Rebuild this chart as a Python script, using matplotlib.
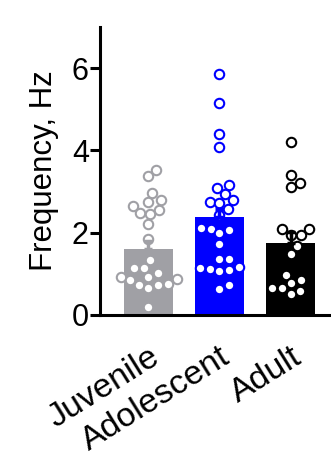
import numpy as np
import matplotlib
matplotlib.use('Agg')
import matplotlib.pyplot as plt

plt.rcParams['font.family'] = ['Liberation Sans', 'DejaVu Sans']

# ---- data ----
groups = ['Juvenile', 'Adolescent', 'Adult']
colors = ['#A0A0A5', '#0000FF', '#000000']
means = [1.59, 2.37, 1.75]
sems = [0.20, 0.20, 0.26]

juvenile = [3.52, 3.37, 2.97, 2.79, 2.74, 2.64, 2.55, 2.48, 2.46, 2.22, 1.85,
            1.34, 1.15, 1.15, 1.02, 0.93, 0.93, 0.88, 0.85, 0.76, 0.73, 0.73,
            0.66, 0.20]
adolescent = [5.85, 5.15, 4.39, 4.07, 3.15, 3.09, 2.93, 2.79, 2.74, 2.72, 2.58,
              2.44, 2.12, 2.09, 2.06, 1.98, 1.73, 1.37, 1.35, 1.16, 1.14, 1.12,
              1.09, 1.07, 0.73, 0.63]
adult = [4.20, 3.39, 3.21, 3.11, 2.09, 2.09, 1.95, 1.95, 1.67, 1.49, 0.98,
         0.84, 0.77, 0.65, 0.65, 0.57, 0.51]
points = [juvenile, adolescent, adult]


def swarm_offsets(ypix, diam):
    """simple beeswarm: returns x offsets in pixels"""
    order = np.argsort(ypix)
    placed = []
    offs = np.zeros(len(ypix))
    for i in order:
        y = ypix[i]
        cands = [0.0]
        for (px, py) in placed:
            dy = y - py
            if abs(dy) < diam:
                dx = np.sqrt(diam ** 2 - dy ** 2)
                cands += [px + dx, px - dx]
        cands = sorted(cands, key=abs)
        for c in cands:
            ok = True
            for (px, py) in placed:
                if (c - px) ** 2 + (y - py) ** 2 < diam ** 2 - 1e-6:
                    ok = False
                    break
            if ok:
                offs[i] = c
                placed.append((c, y))
                break
    return offs


fig = plt.figure(figsize=(3.31, 4.57), dpi=100)
ax = fig.add_axes([0.302, 0.311, 0.695, 0.630])

x = np.arange(len(groups))
ax.set_xlim(-0.683, 2.556)
ax.set_ylim(0, 7)

ax.bar(x, means, width=0.69, color=colors, zorder=1)

fig.canvas.draw()
diam = 10.0  # pixel spacing for the swarm
for i, vals in enumerate(points):
    vals = np.array(vals)
    disp = ax.transData.transform(np.column_stack([np.full(len(vals), x[i]), vals]))
    offs = swarm_offsets(disp[:, 1], diam)
    disp[:, 0] += offs
    xy = ax.transData.inverted().transform(disp)
    ax.scatter(xy[:, 0], xy[:, 1], s=46, facecolor='white', edgecolor=colors[i],
               linewidth=1.5, zorder=2, clip_on=False)
    ax.errorbar(x[i], means[i], yerr=[[0], [sems[i]]], color=colors[i],
                lw=2.5, capsize=3, capthick=2.5, zorder=3)

for s in ['top', 'right']:
    ax.spines[s].set_visible(False)
for s in ['left', 'bottom']:
    ax.spines[s].set_linewidth(2.2)

ax.set_yticks([0, 2, 4, 6])
ax.tick_params(axis='y', labelsize=22, length=7, width=2.2, pad=1)
ax.tick_params(axis='x', length=0, pad=19)
ax.set_xticks(x)
ax.set_xticklabels(groups, fontsize=24.5, rotation=32, ha='right', va='top',
                   rotation_mode='anchor')
ax.set_ylabel('Frequency, Hz', fontsize=22.5, labelpad=9)

fig.savefig('out.png', dpi=100)
